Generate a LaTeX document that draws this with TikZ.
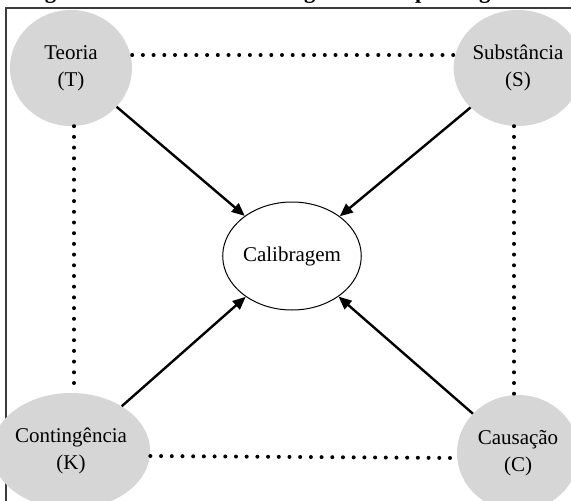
\documentclass[tikz,border=0pt]{standalone}
\usepackage{fontspec}
\setmainfont{Liberation Serif}
\usetikzlibrary{arrows.meta,shapes.geometric}
\definecolor{nodegray}{RGB}{214,214,214}
\definecolor{framegray}{RGB}{60,60,60}
\begin{document}
\begin{tikzpicture}[x=1pt,y=-1pt,
  cornernode/.style={ellipse, fill=nodegray, minimum width=122pt, minimum height=116pt,
    inner sep=0pt, align=center, font=\fontsize{21}{27}\selectfont},
  centernode/.style={ellipse, draw=black, line width=1pt, fill=white, minimum width=119pt,
    minimum height=108pt, inner sep=0pt, font=\fontsize{21}{27}\selectfont},
  dotline/.style={line width=4pt, line cap=round, dash pattern=on 0pt off 10.7pt},
  influence/.style={line width=2.4pt, -{Triangle[length=13pt,width=11pt]}},
  titletext/.style={font=\bfseries\fontsize{22.6}{27}\selectfont, inner sep=0pt}
]
\useasboundingbox (0,0) rectangle (571,501);
\clip (0,0) rectangle (571,501);
\fill[white] (0,0) rectangle (571,501);
\node[titletext, anchor=base west] (title) at (24.5,-2) {Figura 1 – Modelo de calibragem de um paradigma};
\draw[framegray, line width=1.5pt] (6,508) -- (6,8) -- (580,8);

\node[cornernode] (T) at (71,68) {Teoria\\(T)};
\node[cornernode] (S) at (518,68) {Substância\\(S)};
\node[cornernode] (K) at (71,451) {Contingência\\(K)};
\node[cornernode] (C) at (518,453) {Causação\\(C)};
\node[centernode] (cal) at (292,256) {Calibragem};

\draw[dotline] ([yshift=13pt]T.east) -- ([yshift=13pt]S.west);
\draw[dotline] ([yshift=-5pt]K.east) -- ([yshift=-5pt]C.west);
\draw[dotline] ([xshift=3pt]T.south) -- ([xshift=3pt]K.north);
\draw[dotline] ([xshift=-4pt]S.south) -- ([xshift=-4pt]C.north);

\draw[influence] (T) -- (cal);
\draw[influence] (S) -- (cal);
\draw[influence] (K) -- (cal);
\draw[influence] (C) -- (cal);
\end{tikzpicture}
\end{document}
